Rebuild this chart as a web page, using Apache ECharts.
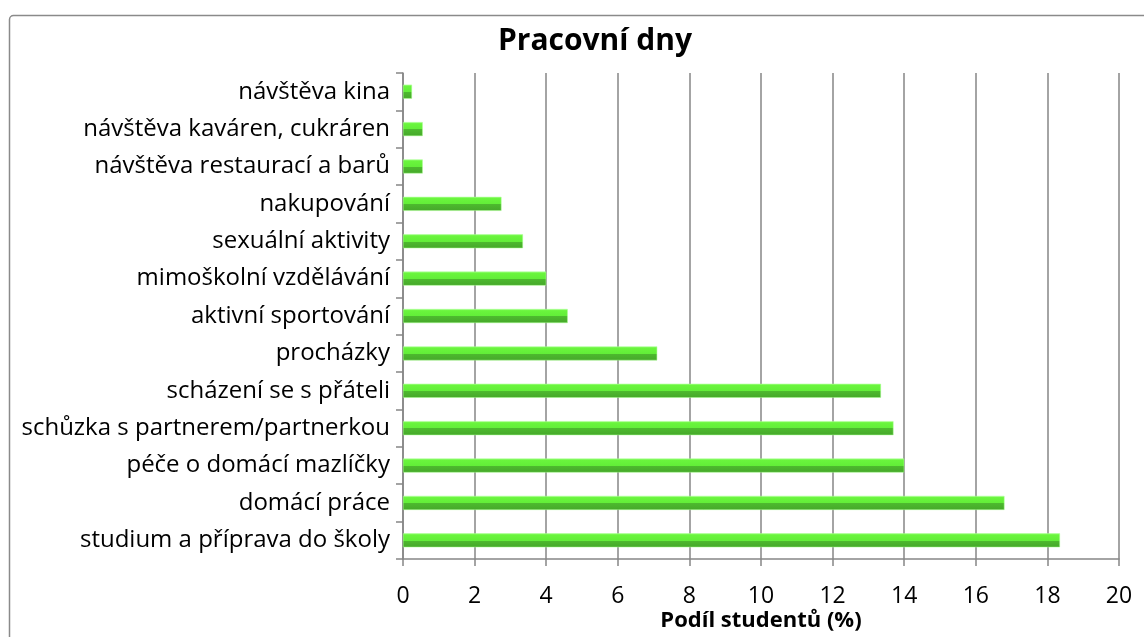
<!DOCTYPE html>
<html>
<head>
<meta charset="utf-8">
<script src="https://cdn.jsdelivr.net/npm/echarts@6/dist/echarts.min.js"></script>
<style>
  html, body { margin: 0; padding: 0; background: #fff; }
  #main { width: 1144px; height: 637px; }
</style>
</head>
<body>
<div id="main"></div>
<script>
var chart = echarts.init(document.getElementById('main'));

// categories from top to bottom
var categories = [
    'návštěva kina',
    'návštěva kaváren, cukráren',
    'návštěva restaurací a barů',
    'nakupování',
    'sexuální aktivity',
    'mimoškolní vzdělávání',
    'aktivní sportování',
    'procházky',
    'scházení se s přáteli',
    'schůzka s partnerem/partnerkou',
    'péče o domácí mazlíčky',
    'domácí práce',
    'studium a příprava do školy'
];
var values = [0.25, 0.55, 0.55, 2.75, 3.35, 4.0, 4.6, 7.1, 13.35, 13.7, 14.0, 16.8, 18.35];
var xTicks = { min: 0, max: 20, interval: 2 };

var font = '"Open Sans", sans-serif';

var option = {
    backgroundColor: '#fff',
    textStyle: { fontFamily: font },
    graphic: [{
        type: 'rect',
        shape: { x: 9.5, y: 15.5, width: 1300, height: 800, r: 4 },
        style: { fill: 'none', stroke: '#8a8a8a', lineWidth: 1.5 },
        silent: true
    }],
    title: {
        text: 'Pracovní dny',
        left: 590,
        textAlign: 'center',
        top: 21,
        textStyle: { fontFamily: font, fontSize: 30, fontWeight: 'bold', color: '#000' }
    },
    grid: {
        left: 403,
        right: 25,
        top: 73,
        bottom: 78,
        outerBoundsMode: 'none'
    },
    xAxis: {
        type: 'value',
        min: xTicks.min,
        max: xTicks.max,
        interval: xTicks.interval,
        name: 'Podíl studentů (%)',
        nameLocation: 'middle',
        nameGap: 51,
        nameMoveOverlap: false,
        nameTextStyle: { fontFamily: font, fontSize: 22, fontWeight: 'bold', color: '#000' },
        axisLine: { show: true, lineStyle: { color: '#868686', width: 1.5 } },
        axisTick: { show: true, length: 7, lineStyle: { color: '#868686', width: 1.5 } },
        axisLabel: { fontFamily: font, fontSize: 23, color: '#000', margin: 26 },
        splitLine: { show: true, lineStyle: { color: '#868686', width: 1.5 } }
    },
    yAxis: {
        type: 'category',
        data: categories,
        inverse: true,
        axisLine: { show: true, lineStyle: { color: '#868686', width: 1.5 } },
        axisTick: { show: true, length: 7, lineStyle: { color: '#868686', width: 1.5 } },
        axisLabel: { fontFamily: font, fontSize: 24, color: '#000', margin: 13 },
        splitLine: { show: false }
    },
    series: [{
        type: 'bar',
        data: values,
        barWidth: 14,
        itemStyle: {
            color: new echarts.graphic.LinearGradient(0, 0, 0, 1, [
                { offset: 0, color: '#93ff73' },
                { offset: 0.12, color: '#6af53d' },
                { offset: 0.52, color: '#62ee38' },
                { offset: 0.52, color: '#4dba2e' },
                { offset: 1, color: '#46a82a' }
            ]),
            borderColor: '#a4ff8a',
            borderWidth: 0.5
        },
        animation: false
    }]
};

chart.setOption(option);
</script>
</body>
</html>
